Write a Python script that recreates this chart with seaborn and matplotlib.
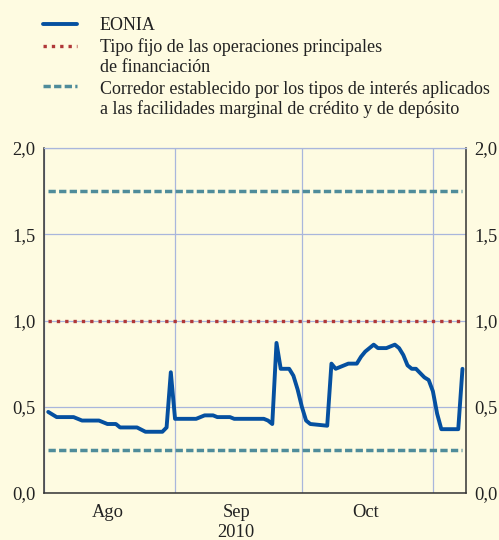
import numpy as np
import pandas as pd
import matplotlib
matplotlib.use("Agg")
import matplotlib.pyplot as plt
import matplotlib.dates as mdates
from matplotlib.lines import Line2D
from matplotlib.ticker import FixedLocator, FixedFormatter, FuncFormatter, NullFormatter
import seaborn as sns

# ---------------- data ----------------
start_date = "2010-08-01"
day_offsets = [1, 3, 7, 9, 13, 15, 17, 18, 22, 24, 28, 29, 30, 31, 36, 38, 40, 41, 44, 45,
               52, 53, 54, 55, 56, 58, 59, 60, 61, 62, 63, 67, 68, 69, 71, 72, 74, 75, 76, 78,
               79, 81, 83, 84, 85, 86, 87, 88, 90, 91, 92, 93, 94, 98, 99]
eonia = [0.47, 0.44, 0.44, 0.42, 0.42, 0.40, 0.40, 0.38, 0.38, 0.355, 0.355, 0.38, 0.70, 0.43, 0.43, 0.45, 0.45, 0.44, 0.44, 0.43,
         0.43, 0.42, 0.40, 0.87, 0.72, 0.72, 0.68, 0.60, 0.50, 0.42, 0.40, 0.39, 0.75, 0.72, 0.74, 0.75, 0.75, 0.79, 0.82, 0.86,
         0.84, 0.84, 0.86, 0.84, 0.80, 0.74, 0.72, 0.72, 0.67, 0.655, 0.59, 0.46, 0.37, 0.37, 0.72]
mro_rate = 1.00
deposit_rate = 0.25
marginal_rate = 1.75

legend_labels = [
    ["EONIA"],
    ["Tipo fijo de las operaciones principales", "de financiación"],
    ["Corredor establecido por los tipos de interés aplicados",
     "a las facilidades marginal de crédito y de depósito"],
]
month_labels = ["Ago", "Sep\n2010", "Oct"]
month_label_dates = ["2010-08-16 00:00", "2010-09-15 12:00", "2010-10-16 00:00"]
y_ticks = [0.0, 0.5, 1.0, 1.5, 2.0]

# ---------------- frames ----------------
dates = pd.Timestamp(start_date) + pd.to_timedelta(day_offsets, unit="D")
df = pd.DataFrame({"date": dates, "eonia": eonia})
span = [dates[0], dates[-1]]
df_mro = pd.DataFrame({"date": span, "rate": [mro_rate] * 2})
df_dep = pd.DataFrame({"date": span, "rate": [deposit_rate] * 2})
df_mar = pd.DataFrame({"date": span, "rate": [marginal_rate] * 2})

# ---------------- style ----------------
sns.set_style("white")
plt.rcParams["font.family"] = ["Liberation Serif", "DejaVu Serif"]

bg = "#FEFBE1"
blue = "#0550A0"
red = "#B03838"
teal = "#4F8C9A"
gridc = "#A9B6DC"
dark = "#333333"
txtc = "#222222"
fs = 13.3
fs_leg = 13

dotted = (0, (1.0, 1.5))
dashed = (0, (2.1, 0.95))

W, H = 499, 540
fig = plt.figure(figsize=(W / 100, H / 100), dpi=100, facecolor=bg)
ax = fig.add_axes([44 / W, 1 - 493 / H, 422 / W, 345 / H])
ax.set_facecolor(bg)

# reference lines
sns.lineplot(data=df_mro, x="date", y="rate", ax=ax, color=red, lw=2.4,
             linestyle=dotted, dash_capstyle="butt", zorder=3)
sns.lineplot(data=df_dep, x="date", y="rate", ax=ax, color=teal, lw=2.5,
             linestyle=dashed, dash_capstyle="butt", zorder=3)
sns.lineplot(data=df_mar, x="date", y="rate", ax=ax, color=teal, lw=2.5,
             linestyle=dashed, dash_capstyle="butt", zorder=3)
# EONIA
sns.lineplot(data=df, x="date", y="eonia", ax=ax, color=blue, lw=2.8,
             solid_joinstyle="round", solid_capstyle="round", zorder=4)

# ---------------- axes ----------------
ax.set_xlim(pd.Timestamp("2010-08-01"), pd.Timestamp("2010-11-08 20:00"))
ax.set_ylim(0, 2.0)
ax.set_xlabel("")
ax.set_ylabel("")

ax.xaxis.set_major_locator(mdates.MonthLocator())
ax.xaxis.set_major_formatter(NullFormatter())
ax.xaxis.set_minor_locator(FixedLocator(mdates.date2num(pd.to_datetime(month_label_dates))))
ax.xaxis.set_minor_formatter(FixedFormatter(month_labels))
ax.tick_params(axis="x", which="major", length=3, width=1, color=dark, direction="out")
ax.tick_params(axis="x", which="minor", length=0, pad=8, labelsize=fs, labelcolor=txtc)

ax.set_yticks(y_ticks)
ax.yaxis.set_major_formatter(FuncFormatter(lambda v, p: f"{v:.1f}".replace(".", ",")))
ax.tick_params(axis="y", length=0, pad=6, labelsize=fs, labelcolor=txtc,
               left=False, right=False, labelleft=True, labelright=True)

ax.grid(True, which="major", color=gridc, lw=0.9)
ax.set_axisbelow(True)
for s in ["left", "right", "bottom"]:
    ax.spines[s].set_color(dark)
    ax.spines[s].set_linewidth(1.1)
ax.spines["top"].set_color(gridc)
ax.spines["top"].set_linewidth(0.9)

# ---------------- legend ----------------
def fx(px):
    return px / W

def fy(py):
    return 1 - py / H

fig.add_artist(Line2D([fx(43), fx(77)], [fy(24)] * 2, transform=fig.transFigure,
                      color=blue, lw=2.8))
fig.add_artist(Line2D([fx(43), fx(77)], [fy(45.5)] * 2, transform=fig.transFigure,
                      color=red, lw=2.4, linestyle=dotted, dash_capstyle="butt"))
fig.add_artist(Line2D([fx(43), fx(77)], [fy(86)] * 2, transform=fig.transFigure,
                      color=teal, lw=2.5, linestyle=dashed, dash_capstyle="butt"))

baselines = [[29.5], [52, 72.5], [94, 114.5]]
for lines, bls in zip(legend_labels, baselines):
    for txt, b in zip(lines, bls):
        fig.text(fx(100), fy(b), txt, fontsize=fs_leg, va="baseline", ha="left", color=txtc)

fig.savefig("out.png", dpi=100, facecolor=bg)
